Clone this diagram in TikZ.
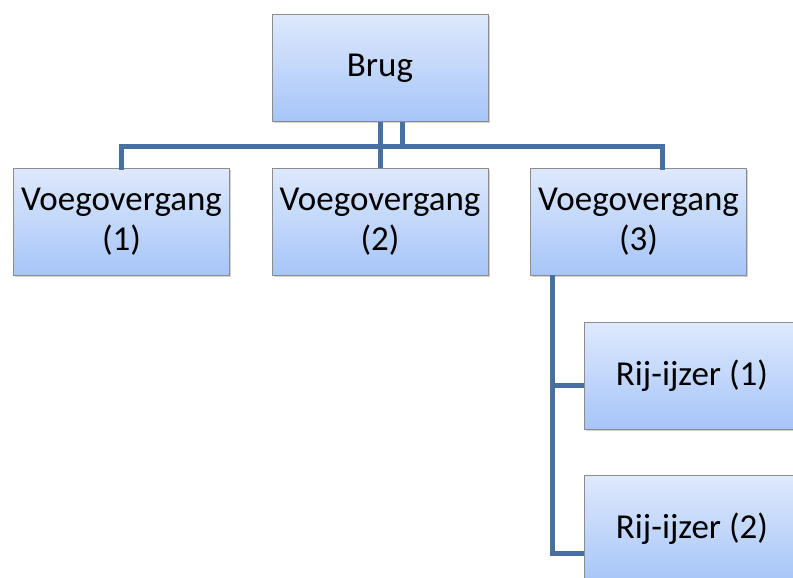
\documentclass[tikz,border=0pt]{standalone}
\usepackage{fontspec}
\setmainfont{Carlito}
\usetikzlibrary{shadows,calc}
\definecolor{boxtop}{RGB}{222,233,252}
\definecolor{boxbot}{RGB}{166,197,248}
\definecolor{boxedge}{RGB}{140,140,140}
\definecolor{link}{RGB}{70,112,162}
\tikzset{
  orgbox/.style={rectangle, draw=boxedge, line width=0.8pt, top color=boxtop, bottom color=boxbot,
    minimum width=216pt, minimum height=107pt, inner sep=0pt, align=center,
    font=\fontsize{35}{40}\selectfont,
    drop shadow={shadow xshift=1.5pt, shadow yshift=-1.5pt, opacity=0.35}},
  linkline/.style={draw=link, line width=5pt}
}
\begin{document}
\begin{tikzpicture}[x=1pt,y=-1pt]
\useasboundingbox (0,0) rectangle (793,578);
\clip (0,0) rectangle (793,578);
\fill[white] (0,0) rectangle (793,578);
\coordinate (bus) at (0,146.5);
\node[orgbox] (brug) at (380,68) {Brug};
\node[orgbox] (v1) at (121.5,221.5) {Voegovergang\\(1)};
\node[orgbox] (v2) at (380,221.5) {Voegovergang\\(2)};
\node[orgbox] (v3) at (638.5,221.5) {Voegovergang\\(3)};
\node[orgbox] (r1) at (692,375.5) {Rij-ijzer (1)};
\node[orgbox] (r2) at (692,529) {Rij-ijzer (2)};
\coordinate (v3in) at ([xshift=23.5pt]v3.north);
\coordinate (brugout) at ([xshift=22pt]brug.south);
\coordinate (v3out) at ([xshift=22pt]v3.south west);
\draw[linkline] (brug.south) -- (v2.north);
\draw[linkline] (brugout) -- (brugout |- bus);
\draw[linkline, line cap=rect] (v1.north) |- (bus -| v3in) -- (v3in);
\draw[linkline] (v3out) |- (r2.west |- 0,553);
\draw[linkline] (v3out |- 0,385) -- (r1.west |- 0,385);
\end{tikzpicture}
\end{document}
